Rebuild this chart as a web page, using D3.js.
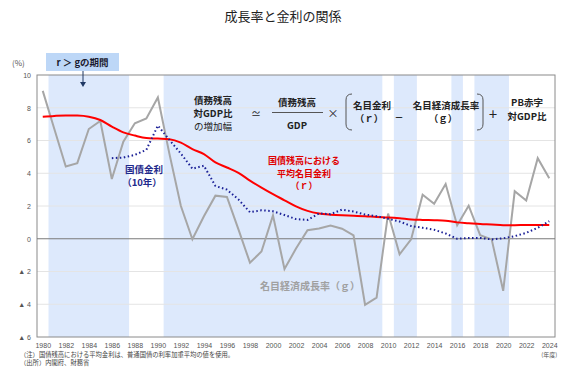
<!DOCTYPE html>
<html><head><meta charset="utf-8">
<script src="https://cdn.jsdelivr.net/npm/d3@7"></script>
<style>
html,body{margin:0;padding:0;background:#fff;}
svg{display:block;font-family:"Noto Sans CJK JP","Noto Sans",sans-serif;}
</style></head>
<body><svg id="c" width="567" height="392"></svg>
<script>
const years = d3.range(1980, 2025);
const growthG = [9.03,6.72,4.41,4.62,6.70,7.19,3.65,5.93,7.05,7.35,8.63,5.2,2.0,-0.03,1.37,2.63,2.55,0.57,-1.46,-0.78,1.43,-1.85,-0.6,0.52,0.63,0.81,0.61,0.2,-4.03,-3.59,1.54,-0.95,-0.04,2.69,2.13,3.34,0.83,2.02,0.22,-0.04,-3.18,2.9,2.33,4.92,3.7];
const avgRateR = [7.45,7.5,7.53,7.52,7.45,7.25,6.85,6.5,6.3,6.15,6.12,6.08,5.87,5.47,5.17,4.66,4.35,4.02,3.55,3.12,2.72,2.35,1.98,1.7,1.54,1.47,1.43,1.41,1.38,1.33,1.3,1.25,1.18,1.15,1.13,1.1,1.0,0.95,0.9,0.87,0.83,0.83,0.84,0.84,0.84];
const jgb10 = [null,null,null,null,null,null,4.92,4.96,5.12,5.43,6.91,6.04,5.2,4.28,4.46,3.22,3.0,2.4,1.62,1.74,1.68,1.45,1.2,1.15,1.55,1.5,1.78,1.66,1.48,1.38,1.22,1.05,0.78,0.67,0.55,0.32,0.0,0.05,0.05,-0.04,0.03,0.16,0.36,0.67,1.07];
const bandStart = [1981,1991,2011,2016,2018];
const bandEnd   = [1987,2009,2012,2016,2020];
const yTicks = [10,8,6,4,2,0,-2,-4,-6];
const xTicks = d3.range(1980, 2025, 2);

const svg = d3.select("#c");
const x = d3.scaleLinear().domain([1979.5, 2024.5]).range([37, 555]);
const y = d3.scaleLinear().domain([-6, 10]).range([337, 75]);

// title
svg.append("text").attr("x",283).attr("y",21).attr("text-anchor","middle")
  .attr("font-size",13).attr("fill","#222").text("成長率と金利の関係");

// bands
svg.append("g").selectAll("rect").data(bandStart).join("rect")
  .attr("x",(d)=>x(d-0.5)).attr("width",(d,i)=>x(bandEnd[i]+0.5)-x(d-0.5))
  .attr("y",y(10)).attr("height",y(-6)-y(10)).attr("fill","#dde9fc");

// gridlines
svg.append("g").selectAll("line").data(yTicks.filter(v=>v!==0 && v!==10 && v!==-6)).join("line")
  .attr("x1",x.range()[0]).attr("x2",x.range()[1]).attr("y1",d=>y(d)).attr("y2",d=>y(d))
  .attr("stroke","#e4e4e4").attr("stroke-width",1);

// axes via d3
const yAxis = svg.append("g").attr("transform",`translate(${x.range()[0]},0)`)
  .call(d3.axisLeft(y).tickValues(yTicks).tickSize(0).tickPadding(6)
    .tickFormat(d=> d<0 ? "▲ " + Math.abs(d) : String(d)));
yAxis.select(".domain").remove();
yAxis.selectAll("text").attr("font-size",7).attr("fill","#555").attr("font-family","'Liberation Sans','DejaVu Sans',sans-serif");

const xAxis = svg.append("g").attr("transform",`translate(0,${y(-6)})`)
  .call(d3.axisBottom(x).tickValues(xTicks).tickSize(0).tickPadding(6).tickFormat(d3.format("d")));
xAxis.select(".domain").remove();
xAxis.selectAll("text").attr("font-size",7).attr("fill","#555").attr("font-family","'Liberation Sans','DejaVu Sans',sans-serif");

// frame
svg.append("rect").attr("x",x.range()[0]).attr("y",y(10)).attr("width",x.range()[1]-x.range()[0])
  .attr("height",y(-6)-y(10)).attr("fill","none").attr("stroke","#8a8a8a").attr("stroke-width",1);
// zero line
svg.append("line").attr("x1",x.range()[0]).attr("x2",x.range()[1]).attr("y1",y(0)).attr("y2",y(0))
  .attr("stroke","#7a7a7a").attr("stroke-width",1);

// lines
const gLine = d3.line().x((d,i)=>x(years[i])).y(d=>y(d));
svg.append("path").datum(growthG).attr("d",gLine).attr("fill","none")
  .attr("stroke","#a6a6a6").attr("stroke-width",2);

const rLine = d3.line().x((d,i)=>x(years[i])).y(d=>y(d)).curve(d3.curveMonotoneX);
svg.append("path").datum(avgRateR).attr("d",rLine).attr("fill","none")
  .attr("stroke","#ff0000").attr("stroke-width",2);

const jLine = d3.line().defined(d=>d!==null).x((d,i)=>x(years[i])).y(d=>y(d));
svg.append("path").datum(jgb10).attr("d",jLine).attr("fill","none")
  .attr("stroke","#1a1f96").attr("stroke-width",2).attr("stroke-dasharray","1.5,2.5");

// units
svg.append("text").attr("x",12).attr("y",66).attr("font-size",8).attr("fill","#555").text("(%)");
svg.append("text").attr("x",x(2024)).attr("y",357).attr("text-anchor","middle")
  .attr("font-size",6).attr("fill","#555").text("(年度)");

// notes
svg.append("text").attr("x",20).attr("y",357).attr("font-size",6.3).attr("fill","#444")
  .text("（注）国債残高における平均金利は、普通国債の利率加重平均の値を使用。");
svg.append("text").attr("x",20).attr("y",365).attr("font-size",6.3).attr("fill","#444")
  .text("（出所）内閣府、財務省");

// r > g box
svg.append("rect").attr("x",46).attr("y",53).attr("width",73).attr("height",18).attr("fill","#bdd7f7");
svg.append("text").attr("x",82.5).attr("y",66).attr("text-anchor","middle").attr("font-size",9.5)
  .attr("font-weight","bold").attr("fill","#1a1a2e").text("r ＞ gの期間");
svg.append("line").attr("x1",83).attr("x2",83).attr("y1",71).attr("y2",83)
  .attr("stroke","#1f3864").attr("stroke-width",1);
svg.append("path").attr("d","M80,82 L86,82 L83,87 Z").attr("fill","#1f3864");

// formula
function t(xp, yp, s, opt={}) {
  return svg.append("text").attr("x",xp).attr("y",yp).attr("text-anchor",opt.anchor||"middle")
    .attr("font-size",opt.size||9.5).attr("font-weight",opt.weight||"bold")
    .attr("fill",opt.fill||"#222").text(s);
}
t(213,104,"債務残高");
t(213,117,"対GDP比");
t(213,130,"の増加幅",{weight:"normal"});
t(256,118,"≃",{weight:"normal",size:10});
t(297,106,"債務残高");
svg.append("line").attr("x1",272).attr("x2",323).attr("y1",112.5).attr("y2",112.5).attr("stroke","#555").attr("stroke-width",1);
t(297,129,"GDP");
t(333,118,"×",{weight:"normal",size:11});
svg.append("path").attr("d","M352,94 Q346,94 346,100 L346,124 Q346,130 352,130").attr("fill","none").attr("stroke","#555").attr("stroke-width",1);
t(372,109,"名目金利");
t(369,122,"（ｒ）");
t(399,121,"－",{size:9});
t(446,109,"名目経済成長率");
t(443,122,"（ｇ）");
svg.append("path").attr("d","M477,94 Q483,94 483,100 L483,124 Q483,130 477,130").attr("fill","none").attr("stroke","#555").attr("stroke-width",1);
t(493,118,"＋",{size:10});
t(527,106,"PB赤字");
t(527,120,"対GDP比");

// series labels
t(144,173,"国債金利",{fill:"#1f2a8c",size:9.5});
t(142,186,"（10年）",{fill:"#1f2a8c",size:9.5});
t(304,164,"国債残高における",{fill:"#e00000",size:9});
t(304,176.5,"平均名目金利",{fill:"#e00000",size:9});
t(304,189,"（ｒ）",{fill:"#e00000",size:9});
t(310,290,"名目経済成長率（ｇ）",{fill:"#a0a0a0",size:10});
</script></body></html>
